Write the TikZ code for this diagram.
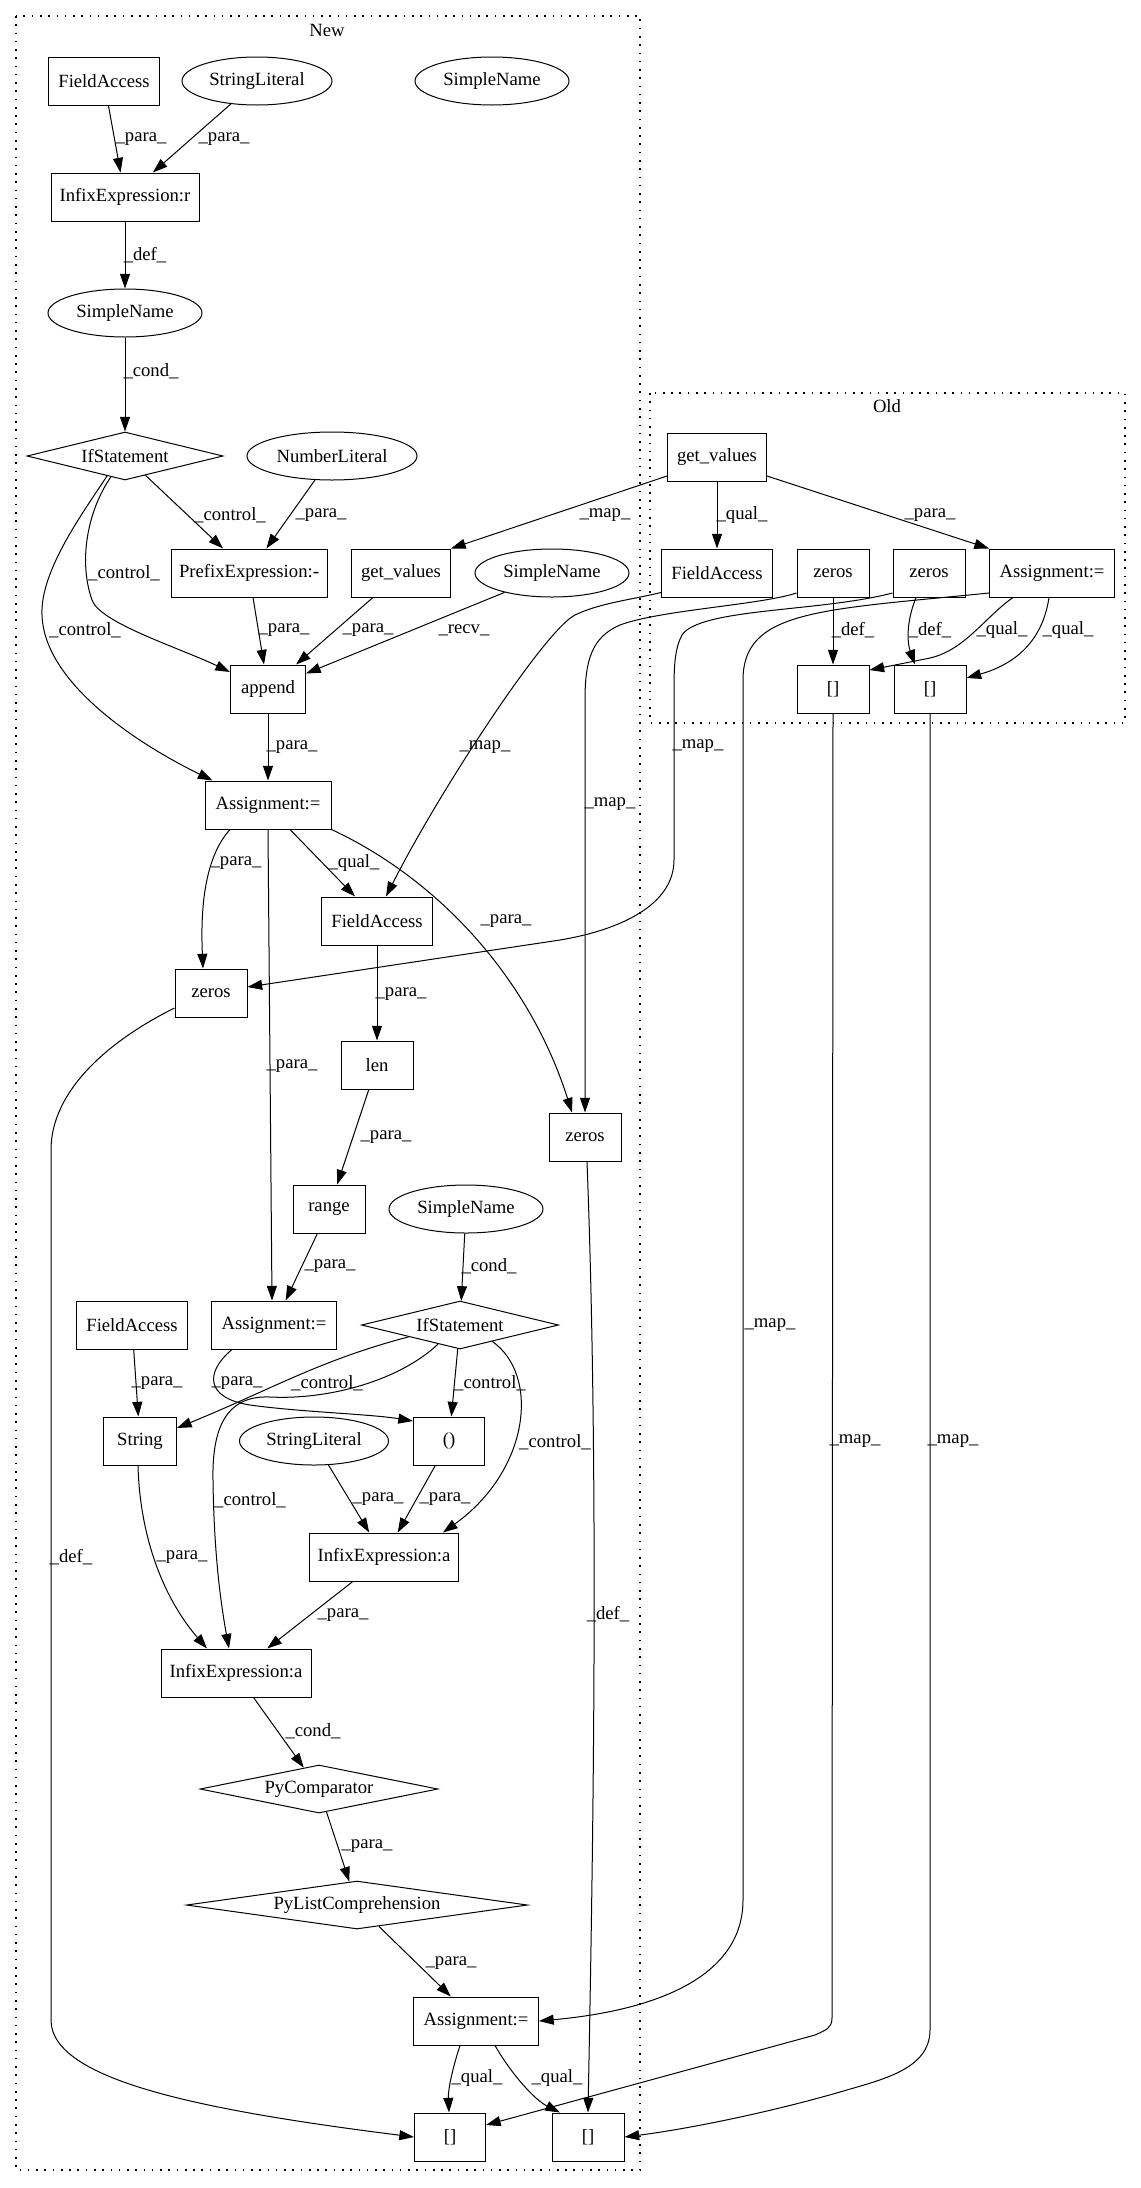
\documentclass[tikz,border=0pt]{standalone}
\usepackage{fontspec}
\setmainfont{Liberation Serif}
\usetikzlibrary{arrows.meta,shapes.geometric,calc}
\begin{document}
\begin{tikzpicture}[x=0.75pt,y=-0.75pt,
  font=\fontsize{14pt}{16pt}\selectfont,
  every node/.style={inner sep=0pt},
  mw/.style={minimum width=#1*0.75pt},
  bx/.style={draw, rectangle, minimum height=36pt, line width=0.75pt},
  el/.style={draw, ellipse, minimum height=36pt, line width=0.75pt},
  dm/.style={draw, diamond, aspect=7, minimum height=36pt, line width=0.75pt},
  edge/.style={line width=0.75pt, -{Triangle[length=11pt,width=7.5pt]}},
  lbl/.style={font=\fontsize{14pt}{16pt}\selectfont},
  cluster/.style={draw, line width=0.8pt, dash pattern=on 1.2pt off 5pt}
]
\path[fill=white] (0,0) rectangle (1141,2188);
\useasboundingbox (0,0) rectangle (1141,2188);

% clusters
\draw[cluster] (16,16) rectangle (640,2170);
\draw[cluster] (650,393) rectangle (1125,723);
\node (newLbl) at (327,30) {New};
\node (oldLbl) at (887,406) {Old};

% New nodes
\node[bx, mw=111] (faTop) at (104,81) {FieldAccess};
\node[el, mw=150] (strLit1) at (257,81) {StringLiteral};
\node[el, mw=154] (snTop) at (492,81) {SimpleName};
\node[bx, mw=148] (infixR) at (125,197) {InfixExpression:r};
\node[el, mw=154] (sn2) at (125,313) {SimpleName};
\node[dm, mw=196] (if1) at (125,456) {IfStatement};
\node[el, mw=170] (numLit) at (332,456) {NumberLiteral};
\node[bx, mw=156] (prefix) at (249,573) {PrefixExpression:-};
\node[bx, mw=99] (gvNew) at (401,573) {get\_values};
\node[el, mw=154] (sn3) at (552,573) {SimpleName};
\node[bx, mw=75] (append) at (268,689) {append};
\node[bx, mw=126] (asg1) at (268,805) {Assignment:=};
\node[bx, mw=111] (faMid) at (377,921) {FieldAccess};
\node[bx, mw=72] (zerosL) at (211,993) {zeros};
\node[bx, mw=72] (len) at (377,1065) {len};
\node[bx, mw=72] (zerosR) at (585,1137) {zeros};
\node[bx, mw=72] (range) at (329,1209) {range};
\node[el, mw=154] (sn4) at (466,1209) {SimpleName};
\node[bx, mw=111] (faLow) at (132,1325) {FieldAccess};
\node[bx, mw=125] (asg2) at (274,1325) {Assignment:=};
\node[dm, mw=197] (if2) at (460,1325) {IfStatement};
\node[bx, mw=73] (string) at (140,1441) {String};
\node[el, mw=149] (strLit2) at (314,1441) {StringLiteral};
\node[bx, mw=71] (paren) at (449,1441) {()};
\node[bx, mw=149] (infixA1) at (384,1557) {InfixExpression:a};
\node[bx, mw=150] (infixA2) at (236,1673) {InfixExpression:a};
\node[dm, mw=238] (pyComp) at (319,1789) {PyComparator};
\node[dm, mw=341] (pyList) at (357,1905) {PyListComprehension};
\node[bx, mw=125] (asg3) at (476,2021) {Assignment:=};
\node[bx, mw=71] (brL) at (450,2137) {[]};
\node[bx, mw=72] (brR) at (588,2137) {[]};

% Old nodes
\node[bx, mw=99] (gvOld) at (717,457) {get\_values};
\node[bx, mw=111] (faOld) at (717,573) {FieldAccess};
\node[bx, mw=72] (zerosA) at (833,573) {zeros};
\node[bx, mw=72] (zerosB) at (929,573) {zeros};
\node[bx, mw=125] (asgOld) at (1052,573) {Assignment:=};
\node[bx, mw=72] (brA) at (833,689) {[]};
\node[bx, mw=72] (brB) at (930,689) {[]};

% New edges
\draw[edge] (faTop) -- (infixR) node[lbl] (l1) at (141,139) {\_para\_};
\draw[edge] (strLit1) -- (infixR) node[lbl] (l2) at (224,139) {\_para\_};
\draw[edge] (infixR) -- (sn2) node[lbl] (l3) at (145,255) {\_def\_};
\draw[edge] (sn2) -- (if1) node[lbl] (l4) at (151,371) {\_cond\_};
\draw[edge] (if1) -- (prefix) node[lbl] (l5) at (230,515) {\_control\_};
\draw[edge] (numLit) -- (prefix) node[lbl] (l6) at (321,515) {\_para\_};
\draw[edge] (if1.236) .. controls (88,510) and (78,560) .. (92,600) .. controls (100,623) and (180,648) .. ($(append.west)+(0,-17)$) node[lbl] (l7) at (124,573) {\_control\_};
\draw[edge] (if1.228) .. controls (85,510) and (40,570) .. (42,615) .. controls (44,680) and (130,740) .. ($(asg1.north west)+(8,0)$) node[lbl] (l8) at (85,630) {\_control\_};
\draw[edge] (prefix) -- (append) node[lbl] (l9) at (284,630) {\_para\_};
\draw[edge] (gvNew) -- (append) node[lbl] (l10) at (368,630) {\_para\_};
\draw[edge] (sn3) -- (append) node[lbl] (l11) at (464,630) {\_recv\_};
\draw[edge] (append) -- (asg1) node[lbl] (l12) at (292,747) {\_para\_};
\draw[edge] ($(asg1.south)+(-38,0)$) .. controls (207,855) and (200,900) .. ($(zerosL.north)+(-8,0)$) node[lbl] (l13) at (236,863) {\_para\_};
\draw[edge] (asg1.south) -- ($(asg2.north)+(-2,0)$) node[lbl] (l14) at (292,1066) {\_para\_};
\draw[edge] ($(asg1.south)+(22,0)$) -- ($(faMid.north)+(-22,0)$) node[lbl] (l15) at (354,863) {\_qual\_};
\draw[edge] (asg1.south east) .. controls (440,880) and (530,980) .. ($(zerosR.north)+(-13,0)$) node[lbl] (l16) at (506,921) {\_para\_};
\draw[edge] (faMid) -- (len) node[lbl] (l17) at (401,994) {\_para\_};
\draw[edge] (len) -- (range) node[lbl] (l18) at (386,1137) {\_para\_};
\draw[edge] (range) -- (asg2) node[lbl] (l19) at (330,1266) {\_para\_};
\draw[edge] (sn4) -- (if2) node[lbl] (l20) at (489,1266) {\_cond\_};
\draw[edge] (faLow) -- (string) node[lbl] (l21) at (157,1383) {\_para\_};
\draw[edge] ($(asg2.south)+(-42,0)$) .. controls (205,1372) and (205,1398) .. (250,1405) .. controls (300,1412) and (370,1414) .. ($(paren.west)+(0,-20)$) node[lbl] (l22) at (237,1383) {\_para\_};
\draw[edge] (if2.193) .. controls (320,1360) and (270,1390) .. ($(string.east)+(0,-13)$) node[lbl] (l23) at (327,1383) {\_control\_};
\draw[edge] (if2) -- (paren) node[lbl] (l24) at (490,1383) {\_control\_};
\draw[edge] (if2.-27) .. controls (540,1375) and (530,1470) .. ($(infixA1.north)+(59,0)$) node[lbl] (l25) at (555,1442) {\_control\_};
\draw[edge] (if2.221) .. controls (400,1380) and (330,1400) .. (270,1397) .. controls (225,1395) and (212,1430) .. (213,1480) .. controls (214,1560) and (222,1610) .. ($(infixA2.north)+(-7,0)$) node[lbl] (l26) at (250,1500) {\_control\_};
\draw[edge] (strLit2) -- (infixA1) node[lbl] (l27) at (378,1499) {\_para\_};
\draw[edge] (paren) -- (infixA1) node[lbl] (l28) at (445,1499) {\_para\_};
\draw[edge] ($(string.south)+(-2,0)$) .. controls (140,1540) and (165,1600) .. ($(infixA2.north)+(-29,0)$) node[lbl] (l29) at (182,1557) {\_para\_};
\draw[edge] (infixA1) -- (infixA2) node[lbl] (l30) at (343,1615) {\_para\_};
\draw[edge] (infixA2) -- (pyComp) node[lbl] (l31) at (313,1731) {\_cond\_};
\draw[edge] (pyComp) -- (pyList) node[lbl] (l32) at (367,1846) {\_para\_};
\draw[edge] (pyList) -- (asg3) node[lbl] (l33) at (451,1963) {\_para\_};
\draw[edge] ($(asg3.south)+(-16,0)$) .. controls (452,2070) and (448,2090) .. ($(brL.north)+(-1,0)$) node[lbl] (l34) at (477,2078) {\_qual\_};
\draw[edge] ($(asg3.south)+(19,0)$) .. controls (512,2075) and (535,2100) .. ($(brR.north)+(-28,0)$) node[lbl] (l35) at (557,2078) {\_qual\_};
\draw[edge] ($(zerosL.west)+(0,15)$) .. controls (110,1040) and (51,1090) .. (51,1150) -- (51,2020) .. controls (51,2080) and (200,2110) .. (brL.west) node[lbl] (l36) at (71,1557) {\_def\_};
\draw[edge] ($(zerosR.south)+(2,0)$) .. controls (600,1500) and (592,1900) .. (brR.north) node[lbl] (l37) at (608,1614) {\_def\_};

% Old edges
\draw[edge] ($(gvOld.west)+(0,19)$) -- (gvNew.north east) node[lbl] (l38) at (605,515) {\_map\_};
\draw[edge] (gvOld) -- (faOld) node[lbl] (l39) at (742,515) {\_qual\_};
\draw[edge] ($(gvOld.east)+(0,19)$) -- (asgOld.north west) node[lbl] (l40) at (930,515) {\_para\_};
\draw[edge] ($(faOld.south west)+(0,-5)$) .. controls (630,600) and (600,603) .. (575,615) .. controls (545,630) and (440,790) .. ($(faMid.north)+(9,0)$) node[lbl] (l41) at (485,747) {\_map\_};
\draw[edge] (zerosA) -- (brA) node[lbl] (l42) at (853,630) {\_def\_};
\draw[edge] ($(zerosB.south)+(-13,0)$) .. controls (905,625) and (908,645) .. ($(brB.north)+(-15,0)$) node[lbl] (l43) at (930,630) {\_def\_};
\draw[edge] ($(asgOld.south)+(-39,0)$) .. controls (985,617) and (965,650) .. (930,658) .. controls (905,663) and (885,667) .. ($(brA.east)+(0,-19)$) node[lbl] (l44) at (1002,630) {\_qual\_};
\draw[edge] ($(asgOld.south)+(-3,0)$) .. controls (1045,625) and (1030,660) .. ($(brB.east)+(0,-11)$) node[lbl] (l45) at (1068,630) {\_qual\_};
\draw[edge] ($(zerosA.west)+(0,20)$) .. controls (760,605) and (660,610) .. (620,625) .. controls (592,637) and (585,660) .. (585,700) -- (zerosR.north) node[lbl] (l46) at (610,804) {\_map\_};
\draw[edge] ($(zerosB.west)+(0,20)$) .. controls (820,612) and (700,608) .. (682,635) .. controls (675,648) and (674,665) .. (674,690) -- (674,860) .. controls (674,905) and (620,930) .. (560,940) -- ($(zerosL.east)+(0,-6)$) node[lbl] (l47) at (698,746) {\_map\_};
\draw[edge] ($(asgOld.west)+(0,20)$) .. controls (820,610) and (743,610) .. (743,680) -- (743,1900) .. controls (743,1975) and (660,2010) .. (asg3.east) node[lbl] (l48) at (770,1325) {\_map\_};
\draw[edge] (brA.south) -- (832,2018) .. controls (832,2028) and (826,2030) .. (815,2035) -- ($(brL.east)+(0,-12)$) node[lbl] (l49) at (855,1441) {\_map\_};
\draw[edge] (brB.south) -- (930,2030) .. controls (930,2070) and (880,2080) .. (840,2092) .. controls (760,2115) and (680,2130) .. (brR.east) node[lbl] (l50) at (953,1441) {\_map\_};
\end{tikzpicture}
\end{document}
